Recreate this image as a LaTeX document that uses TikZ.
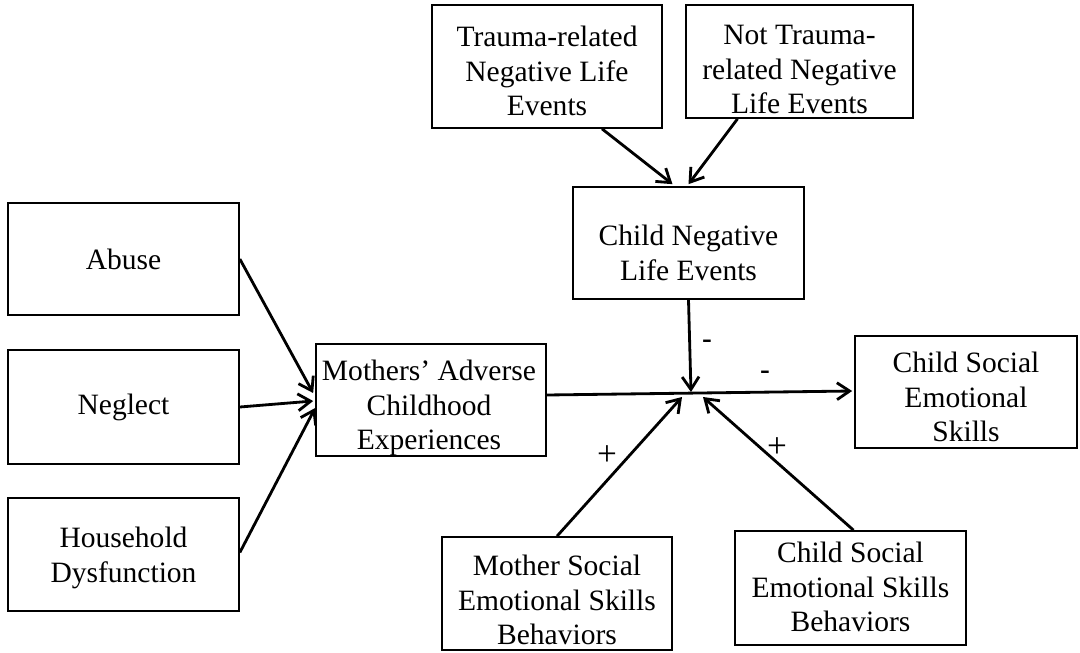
\documentclass[tikz,border=0pt]{standalone}
\usepackage{fontspec}
\setmainfont{Liberation Serif}
\newfontfamily\sansf{Liberation Sans}
\usetikzlibrary{arrows.meta,calc}
\begin{document}
\begin{tikzpicture}[x=0.025cm,y=-0.025cm,
  box/.style n args={2}{draw,line width=1.2pt,inner sep=0pt,minimum width=#1*0.025cm,minimum height=#2*0.025cm},
  txt/.style={anchor=north,inner sep=0pt,align=center,font=\fontsize{21}{24.6}\selectfont},
  conn/.style={line width=2pt,-{Straight Barb[length=9pt,width=12pt]}},
  minus/.style={inner sep=0pt,font=\sansf\fontsize{22}{25}\selectfont},
  plus/.style={inner sep=0pt,font=\fontsize{25}{28}\selectfont}]
\useasboundingbox (0,0) rectangle (1080,652);

% boxes
\node[box={231}{112}] (abuse) at (123.5,259) {};
\node[box={231}{114}] (neglect) at (123.5,407) {};
\node[box={231}{113}] (house) at (123.5,554.5) {};
\node[box={230}{112}] (mace) at (431,400) {};
\node[box={230}{123}] (trauma) at (547,66.5) {};
\node[box={227}{113}] (nottrauma) at (799.5,61.5) {};
\node[box={231}{112}] (cnle) at (688.5,243) {};
\node[box={222}{112}] (cses) at (966,392) {};
\node[box={230}{113}] (msesb) at (557,593.5) {};
\node[box={231}{114}] (csesb) at (850.5,588) {};

% texts
\node[txt] (abuse-t) at (123.5,249) {Abuse};
\node[txt] (neglect-t) at (123.5,394) {Neglect};
\node[txt] (house-t) at (123.5,527) {Household\\Dysfunction};
\node[txt] (mace-t) at (429,360) {Mothers’ Adverse\\Childhood\\Experiences};
\node[txt] (trauma-t) at (547,26) {Trauma-related\\Negative Life\\Events};
\node[txt] (nottrauma-t) at (799.5,25) {Not Trauma-\\related Negative\\Life Events};
\node[txt] (cnle-t) at (688.5,225) {Child Negative\\Life Events};
\node[txt] (cses-t) at (966,352) {Child Social\\Emotional\\Skills};
\node[txt] (msesb-t) at (557,555) {Mother Social\\Emotional Skills\\Behaviors};
\node[txt] (csesb-t) at (850.5,542) {Child Social\\Emotional Skills\\Behaviors};

% junction points
\coordinate (jt) at (691,392);
\coordinate (jl) at (682,397);
\coordinate (jr) at (703,397);

% connectors
\draw[conn] (abuse.east) -- ($(mace.west)+(-2,-7)$);
\draw[conn] (neglect.east) -- ($(mace.west)+(-2,1)$);
\draw[conn] ($(house.east)+(0,-2)$) -- ($(mace.west)+(0,8)$);
\draw[conn] ($(trauma.south)+(55,0)$) -- ($(cnle.north)+(-16,-2)$);
\draw[conn] ($(nottrauma.south)+(-62,0)$) -- ($(cnle.north)+(0,-2)$);
\draw[conn] (cnle.south) -- (jt);
\draw[conn] ($(mace.east)+(0,-5)$) -- ($(cses.west)+(-2,-1)$);
\draw[conn] (msesb.north) -- (jl);
\draw[conn] ($(csesb.north)+(3,0)$) -- (jr);

% signs
\node[minus] (m1) at (707,345) {-};
\node[minus] (m2) at (765,376) {-};
\node[plus] (p1) at (607,456) {+};
\node[plus] (p2) at (777,448) {+};
\end{tikzpicture}
\end{document}
